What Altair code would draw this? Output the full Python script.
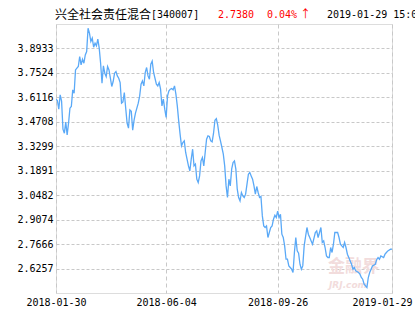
import altair as alt
import pandas as pd

# trading-day index (0 = 2018-01-30, 241 = 2019-01-29) and unit NAV
day = [0, 1, 2, 3, 4, 5, 6, 7, 8, 9, 10, 11, 12, 13, 14, 15, 16, 17, 18, 19,
       20, 21, 22, 23, 24, 25, 26, 27, 28, 29, 30, 31, 32, 33, 34, 35, 36, 37, 38, 39,
       40, 41, 42, 43, 44, 45, 46, 47, 48, 49, 50, 51, 52, 53, 54, 55, 56, 57, 58, 59,
       60, 61, 62, 63, 64, 65, 66, 67, 68, 69, 70, 72, 73, 74, 75, 76, 77, 78, 79,
       80, 81, 82, 83, 84, 85, 86, 87, 88, 89, 90, 91, 92, 93, 94, 95, 96, 97, 98, 99,
       100, 101, 102, 103, 104, 105, 106, 107, 108, 109, 110, 111, 112, 113, 114, 115, 116, 117, 118, 119,
       120, 121, 122, 123, 124, 125, 126, 127, 128, 129, 130, 131, 132, 133, 134, 135, 136, 137, 138, 139,
       140, 141, 142, 143, 144, 145, 146, 147, 148, 149, 150, 151, 152, 153, 154, 155, 156, 157, 158, 159,
       160, 161, 162, 163, 164, 165, 166, 167, 168, 169, 170, 171, 172, 173, 174, 175, 176, 177, 178,
       180, 181, 182, 183, 184, 186, 187, 188, 189, 190, 191, 192, 193, 194, 195, 196, 197, 198, 199,
       200, 202, 203, 204, 205, 206, 207, 208, 209, 210, 211, 212, 213, 214, 215, 217, 218, 219,
       220, 221, 223, 224, 225, 226, 227, 229, 230, 231, 232, 233, 235, 236, 237, 238, 240, 241]

nav = [3.6010, 3.5935, 3.5434, 3.6258, 3.5895, 3.4282, 3.4052, 3.4686, 3.3954, 3.4628,
       3.5492, 3.5590, 3.6546, 3.6356, 3.7698, 3.7796, 3.7894, 3.8470, 3.7986, 3.8314,
       3.8084, 3.8562, 3.8758, 4.0100, 3.9812, 3.9334, 3.9524, 3.9005, 3.9236, 3.9080,
       3.9466, 3.8948, 3.8084, 3.6932, 3.7928, 3.7508, 3.7318, 3.7894, 3.7698, 3.7220,
       3.6742, 3.7030, 3.7508, 3.7606, 3.7352, 3.7220, 3.6972, 3.5780, 3.5855, 3.6396,
       3.5492, 3.4628, 3.4340, 3.5394, 3.5319, 3.4225, 3.4801, 3.5204, 3.5492, 3.5780,
       3.6183, 3.6874, 3.7064, 3.6776, 3.7548, 3.7836, 3.7352, 3.7162, 3.8026, 3.8199,
       3.7548, 3.6874, 3.6776, 3.6972, 3.6586, 3.5625, 3.6010, 3.5434, 3.4956,
       3.6201, 3.6488, 3.6586, 3.6627, 3.6546, 3.6776, 3.6298, 3.5625, 3.4761, 3.3995,
       3.3321, 3.3517, 3.3609, 3.2941, 3.2555, 3.2169, 3.1881, 3.2555, 3.3131, 3.2169,
       3.2267, 3.1403, 3.1213, 3.1593, 3.2457, 3.2653, 3.2169, 3.2941, 3.3707, 3.3897,
       3.3862, 3.3609, 3.3551, 3.4052, 3.4801, 3.4887, 3.4513, 3.3937, 3.3591, 3.3229,
       3.2843, 3.2169, 3.1017, 3.0349, 3.1403, 3.1017, 3.1979, 3.2365, 3.2457, 3.1979,
       3.0827, 3.0349, 3.0153, 3.0637, 3.0441, 3.0349, 3.0539, 3.1115, 3.1691, 3.1789,
       3.1593, 3.1403, 3.1017, 3.0539, 3.0982, 3.0637, 3.0349, 3.0406, 2.9289, 2.8713,
       2.8621, 2.8713, 2.8045, 2.8333, 2.8621, 2.8713, 2.9099, 2.9329, 2.9197, 2.9560,
       2.9197, 2.9387, 2.8235, 2.8045, 2.7561, 2.6795, 2.6795, 2.6409, 2.6317, 2.6219,
       2.6029, 2.7181, 2.8045, 2.7273, 2.7141, 2.6507, 2.6219, 2.6409, 2.7561,
       2.8621, 2.8235, 2.8045, 2.7849, 2.7659, 2.8333, 2.8425, 2.8045, 2.8333, 2.8621,
       2.7757, 2.7849, 2.7469, 2.6985, 2.6893, 2.6893, 2.7469, 2.7181, 2.7659,
       2.8333, 2.8333, 2.8045, 2.7659, 2.7561, 2.7469, 2.7757, 2.7469, 2.7084, 2.6893,
       2.6697, 2.6507, 2.6219, 2.6317, 2.6121, 2.6029, 2.5931, 2.5741,
       2.5643, 2.5355, 2.5165, 2.5741, 2.6029, 2.6219, 2.6409, 2.6507, 2.6766, 2.6893,
       2.6795, 2.6985, 2.6893, 2.7084, 2.7181, 2.7273, 2.7369, 2.7380]

x_ticks = [0, 79, 159, 241]
x_labels = ["2018-01-30", "2018-06-04", "2018-09-26", "2019-01-29"]
y_ticks = [2.6257, 2.7666, 2.9074, 3.0482, 3.1891, 3.3299, 3.4708, 3.6116, 3.7524, 3.8933]
y_domain = [2.4849, 4.0341]

fund_name = "兴全社会责任混合"
fund_code = "[340007]"
last_nav = "2.7380"
last_change = "0.04%"
arrow = "↑"
stamp = "2019-01-29 15:00"

df = pd.DataFrame({"day": day, "nav": nav})

label_expr = ""
for v, s in zip(x_ticks, x_labels):
    label_expr += f"datum.value == {v} ? '{s}' : "
label_expr += "''"

MONO = "DejaVu Sans Mono"
GRID = "#c8c8c8"

line = alt.Chart(df).mark_line(color="#5aa9f7", strokeWidth=1.3, clip=True).encode(
    x=alt.X("day:Q",
            scale=alt.Scale(domain=[0, 241], nice=False, zero=False),
            axis=alt.Axis(values=x_ticks, labelExpr=label_expr, title=None,
                          grid=True, gridColor=GRID, gridDash=[4, 3], gridWidth=1,
                          domain=False, ticks=False, labelAngle=0,
                          labelFont=MONO, labelFontSize=10, labelColor="#000000",
                          labelPadding=4, labelOverlap=False, labelFlush=False,
                          labelOffset={"condition": {"test": "datum.value == 241", "value": -10},
                                       "value": 0})),
    y=alt.Y("nav:Q",
            scale=alt.Scale(domain=y_domain, nice=False, zero=False),
            axis=alt.Axis(values=y_ticks, format=".4f", title=None,
                          grid=True, gridColor=GRID, gridDash=[3, 2], gridWidth=1,
                          domain=False, ticks=False,
                          labelFont=MONO, labelFontSize=10, labelColor="#000000",
                          labelPadding=3, labelOverlap=False, labelFlush=False)),
)


def header(text, color, font, size, xpos):
    return alt.Chart(pd.DataFrame({"t": [text]})).mark_text(
        align="left", baseline="middle", font=font, fontSize=size, color=color
    ).encode(text="t:N", x=alt.value(xpos), y=alt.value(-9))


h1 = header(fund_name, "#000000", "Noto Sans CJK SC", 12, -1)
h2 = header(fund_code, "#000000", MONO, 10, 95)
h3 = header(last_nav, "#ff0000", MONO, 10, 162)
h4 = header(last_change, "#ff0000", MONO, 10, 211)
h4b = header(arrow, "#ff0000", "Noto Sans CJK SC", 11, 244)
h5 = header(stamp, "#000000", MONO, 10, 271)

wm1 = alt.Chart(pd.DataFrame({"t": ["金融界"]})).mark_text(
    align="left", baseline="middle", font="Noto Sans CJK SC", fontSize=17,
    fontWeight="bold", color="#f2dcdc"
).encode(text="t:N", x=alt.value(272), y=alt.value(243))
wm2 = alt.Chart(pd.DataFrame({"t": ["JRJ.com"]})).mark_text(
    align="left", baseline="middle", font="DejaVu Sans", fontSize=9,
    fontWeight="bold", fontStyle="italic", color="#f2dcdc"
).encode(text="t:N", x=alt.value(273), y=alt.value(261))

chart = alt.layer(wm1, wm2, line, h1, h2, h3, h4, h4b, h5).properties(
    width=336, height=269,
    autosize="none",
    padding={"left": 56, "top": 24, "right": 23, "bottom": 37},
).configure_view(stroke="#c8c8c8", strokeWidth=1).configure(background="#ffffff")

chart.save("out.html", embed_options={"renderer": "svg", "actions": False})
